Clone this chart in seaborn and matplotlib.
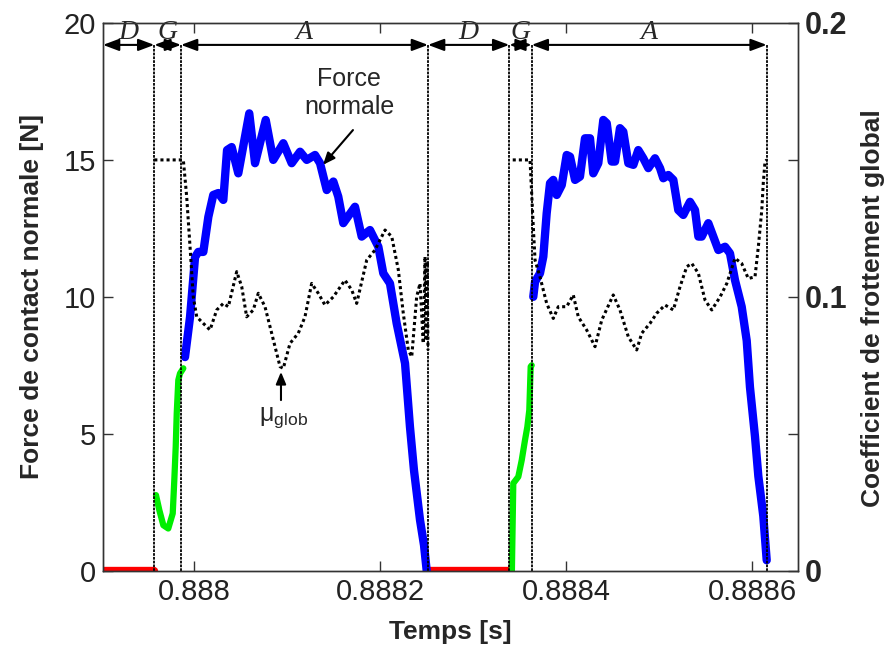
import matplotlib.pyplot as plt
import numpy as np
import pandas as pd
import seaborn as sns


sns.set_theme(style="ticks")
plt.rcParams.update({
    "font.family": ["Liberation Sans", "DejaVu Sans"],
    "mathtext.fontset": "custom",
    "mathtext.rm": "Liberation Sans",
    "mathtext.it": "Liberation Sans:italic",
    "axes.edgecolor": "#333333",
    "axes.linewidth": 1.0,
})

T0 = 0.888  # s ; times below are offsets from T0 in microseconds

# --- cycle 1 ---
red1_t = [-98.2, -43.0]
red1_f = [0.0, 0.0]

green1_t = [-41.2, -37.6, -33.3, -28.0, -23.2, -21.5, -20.0, -18.9, -17.2, -15.4, -11.8]
green1_f = [2.76, 2.21, 1.66, 1.54, 2.09, 3.31, 4.52, 5.74, 6.96, 7.20, 7.39]

blue1_t = [-10.0, -4.6, 0.8, 4.3, 9.7, 15.1, 20.4, 25.8, 31.2, 35.2, 40.2, 47.3,
           59.1, 65.3, 76.8, 84.9, 95.7, 104.7, 113.7, 120.9, 129.8, 135.2,
           142.4, 149.5, 154.8, 160.2, 172.8, 180.0, 188.9, 197.9, 203.2,
           210.4, 217.6, 226.6, 231.9, 236.2, 242.7, 247.0, 249.9]
blue1_f = [7.80, 9.26, 11.45, 11.64, 11.64, 12.92, 13.72, 13.79, 13.54, 15.36,
           15.47, 14.51, 16.70, 14.88, 16.46, 15.00, 15.61, 14.88, 15.30, 15.00,
           15.18, 14.88, 13.90, 14.21, 13.66, 12.69, 13.29, 12.20, 12.44, 11.83,
           10.86, 10.49, 9.03, 7.57, 5.25, 3.67, 1.85, 0.93, 0.0]

mu1_t = [-43.0, -15.4, -11.8, -8.2, -4.6, -1.1, 2.6, 9.7, 16.9, 24.1, 31.2,
         36.6, 45.6, 51.0, 56.3, 63.4, 68.8, 76.0, 83.2, 92.2, 95.7, 102.9,
         111.8, 119.0, 126.2, 133.3, 140.5, 149.5, 162.0, 169.3, 174.6, 185.4,
         194.3, 205.1, 212.3, 219.4, 224.7, 230.1, 233.8, 239.1, 242.7, 246.2,
         248.1, 249.2, 250.2, 251.3]
mu1_v = [0.150, 0.150, 0.150, 0.1366, 0.1183, 0.100, 0.0927, 0.0903, 0.0879,
         0.0952, 0.0976, 0.0964, 0.1092, 0.1037, 0.0927, 0.0952, 0.1013,
         0.0964, 0.0867, 0.0745, 0.0739, 0.0830, 0.0867, 0.0927, 0.1049,
         0.1013, 0.0970, 0.1000, 0.1061, 0.1025, 0.0976, 0.1134, 0.1171,
         0.1244, 0.1220, 0.1098, 0.0940, 0.0806, 0.0781, 0.1000, 0.1049,
         0.0830, 0.1147, 0.0840, 0.1130, 0.0805]

# --- cycle 2 ---
red2_t = [249.9, 339.5]
red2_f = [0.0, 0.0]

green2_t = [341.5, 343.0, 348.4, 352.1, 355.6, 358.1, 360.2, 361.7, 362.8]
green2_f = [0.0, 3.19, 3.43, 4.04, 4.77, 5.25, 5.86, 7.45, 7.50]

blue2_t = [364.5, 366.4, 371.7, 375.3, 378.9, 382.5, 386.0, 389.7, 395.1, 400.4,
           404.0, 409.4, 414.7, 420.1, 425.5, 429.0, 434.4, 439.8, 443.5, 448.8,
           452.4, 457.7, 461.3, 466.7, 472.1, 477.4, 482.8, 488.2, 495.4, 500.8,
           504.3, 509.7, 515.1, 520.4, 525.8, 533.0, 538.4, 542.0, 545.6, 552.7,
           558.1, 563.5, 570.7, 576.0, 581.4, 588.6, 594.0, 597.5, 602.9, 606.5,
           611.8, 615.5]
blue2_f = [10.00, 10.55, 10.86, 11.47, 13.05, 14.15, 14.27, 13.72, 14.08, 15.18,
           15.12, 14.27, 14.39, 15.79, 15.79, 14.51, 14.88, 16.46, 16.34, 14.94,
           14.94, 16.16, 16.03, 14.88, 14.82, 15.36, 15.06, 14.70, 15.06, 14.70,
           14.33, 14.45, 14.27, 13.17, 12.99, 13.47, 13.17, 12.20, 12.20, 12.69,
           12.20, 11.71, 11.83, 11.59, 10.61, 9.64, 8.40, 6.70, 4.90, 3.45,
           2.00, 0.38]

mu2_t = [342.4, 361.0, 364.5, 366.4, 371.7, 378.9, 386.0, 391.4, 400.4, 407.5,
         412.9, 421.9, 430.9, 438.1, 450.5, 457.7, 466.7, 475.7, 481.1, 490.0,
         497.2, 506.2, 515.1, 522.3, 529.5, 534.9, 542.0, 549.2, 556.4, 565.4,
         572.6, 581.4, 588.6, 595.7, 602.9, 606.5, 610.2, 611.8, 613.7, 615.5]
mu2_v = [0.150, 0.150, 0.1256, 0.1134, 0.1073, 0.0976, 0.0921, 0.0964, 0.0964,
         0.1007, 0.0927, 0.0879, 0.0818, 0.0915, 0.1007, 0.0952, 0.0854, 0.0806,
         0.0867, 0.0903, 0.0940, 0.0970, 0.0952, 0.1037, 0.1110, 0.1122, 0.1086,
         0.0988, 0.0952, 0.1000, 0.1049, 0.1141, 0.1122, 0.1067, 0.1073, 0.1183,
         0.1317, 0.1415, 0.1494, 0.150]

# phase boundaries (µs) and their labels
bounds_us = [-98.2, -43.0, -14.3, 251.3, 338.7, 362.8, 615.5]
phase_labels = ["D", "G", "A", "D", "G", "A"]

xticks = [0.888, 0.8882, 0.8884, 0.8886]
xtick_labels = ["0.888", "0.8882", "0.8884", "0.8886"]


def seg(t_us, vals):
    return pd.DataFrame({"t": T0 + np.asarray(t_us) * 1e-6, "v": vals})


fig = plt.figure(figsize=(8.87, 6.46), dpi=100)
ax = fig.add_axes([0.1161, 0.1166, 0.7832, 0.8478])
ax2 = ax.twinx()

line_kw = dict(x="t", y="v", estimator=None, sort=False, legend=False)
for t, f in [(red1_t, red1_f), (red2_t, red2_f)]:
    sns.lineplot(data=seg(t, f), ax=ax, color="#ff0000", linewidth=6, **line_kw)
for t, f in [(green1_t, green1_f), (green2_t, green2_f)]:
    sns.lineplot(data=seg(t, f), ax=ax, color="#00ee00", linewidth=4.5, **line_kw)
for t, f in [(blue1_t, blue1_f), (blue2_t, blue2_f)]:
    sns.lineplot(data=seg(t, f), ax=ax, color="#0000ff", linewidth=6, **line_kw)
for t, m in [(mu1_t, mu1_v), (mu2_t, mu2_v)]:
    sns.lineplot(data=seg(t, m), ax=ax2, color="black", linewidth=2.2,
                 linestyle=(0, (1, 1)), **line_kw)

# phase boundaries and dimension arrows
bx = [T0 + b * 1e-6 for b in bounds_us]
ax.vlines(bx[1:], 0, 19.2, colors="black", linewidth=1.3, linestyles=(0, (1.5, 0.6)))
for i, lab in enumerate(phase_labels):
    ax.annotate("", xy=(bx[i], 19.2), xytext=(bx[i + 1], 19.2),
                arrowprops=dict(arrowstyle="<|-|>,head_length=0.8,head_width=0.3",
                                color="black", lw=1.5, shrinkA=0, shrinkB=0))
    ax.text((bx[i] + bx[i + 1]) / 2, 19.2, lab, ha="center", va="bottom",
            fontsize=20, style="italic", family=["Liberation Serif", "DejaVu Serif"])

# annotations
ax.text(T0 + 166.4e-6, 17.45, "Force\nnormale", ha="center", va="center", fontsize=18)
ax.annotate("", xy=(T0 + 138.4e-6, 14.82), xytext=(T0 + 170.6e-6, 16.09),
            arrowprops=dict(arrowstyle="-|>,head_length=0.6,head_width=0.25",
                            color="black", lw=1.5, shrinkA=0, shrinkB=0))
ax.text(T0 + 95.4e-6, 5.6, "μ$_{\\mathregular{glob}}$", ha="center", va="center", fontsize=18)
ax.annotate("", xy=(T0 + 93.2e-6, 7.26), xytext=(T0 + 93.2e-6, 6.23),
            arrowprops=dict(arrowstyle="-|>,head_length=0.6,head_width=0.25",
                            color="black", lw=1.5, shrinkA=0, shrinkB=0))

ax.set_xlim(T0 - 98.2e-6, T0 + 648.8e-6)
ax.set_ylim(0, 20)
ax2.set_ylim(0, 0.2)

ax.set_xticks(xticks)
ax.set_xticklabels(xtick_labels)
ax.set_yticks([0, 5, 10, 15, 20])
ax.set_yticklabels(["0", "5", "10", "15", "20"])
ax2.set_yticks([0, 0.05, 0.1, 0.15, 0.2])
ax2.set_yticklabels(["0", "", "0.1", "", "0.2"], fontweight="bold")

ax.tick_params(axis="both", direction="in", length=7, width=1, color="#333333",
               labelsize=21, labelcolor="#222222", pad=5, top=True)
ax.tick_params(axis="y", right=False)
ax2.tick_params(axis="y", direction="in", length=7, width=1, color="#333333",
                labelsize=22, pad=5)

ax.set_xlabel("Temps [s]", fontsize=19, fontweight="bold")
ax.xaxis.set_label_coords(0.5, -0.09)
ax.set_ylabel("Force de contact normale [N]", fontsize=19, fontweight="bold")
ax.yaxis.set_label_coords(-0.085, 0.5)
ax2.set_ylabel("Coefficient de frottement global", fontsize=19, fontweight="bold")
ax2.yaxis.label.set_verticalalignment("center")
ax2.yaxis.set_label_coords(1.108, 0.48)

fig.savefig("out.png", dpi=100)
